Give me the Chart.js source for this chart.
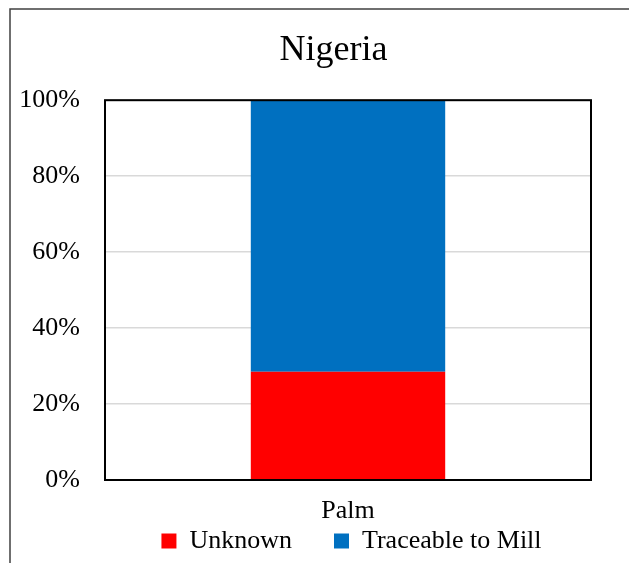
<!DOCTYPE html>
<html>
<head>
<meta charset="utf-8">
<script src="https://cdn.jsdelivr.net/npm/chart.js@4"></script>
<style>
  html, body { margin: 0; padding: 0; background: #fff; }
  #wrap { width: 629px; height: 563px; position: relative; }
</style>
</head>
<body>
<div id="wrap"><canvas id="chart"></canvas></div>
<script>
const categories = ['Palm'];
const unknownShare = [28.5];
const traceableShare = [71.5];
const yTicks = [0, 20, 40, 60, 80, 100];

const serif = "'Liberation Serif', 'Times New Roman', serif";

// the legend uses its label padding both between items and above them;
// keep the wide item gap but reserve a shorter box in the layout
const legendHeight = 38;
const legendTextY = 541;

const framePlugin = {
  id: 'frame',
  beforeLayout(chart) {
    const lg = chart.legend;
    if (lg && !lg._shortFit) {
      const fit = lg.fit.bind(lg);
      lg.fit = function () {
        fit();
        this.height = legendHeight;
      };
      lg._shortFit = true;
    }
  },
  afterLayout(chart) {
    // the original chart object is wider than the window, so its title and
    // legend are centred further right than the canvas middle
    if (chart.titleBlock) {
      chart.titleBlock.left = 10;
      chart.titleBlock.right = 657;
    }
    const lg = chart.legend;
    if (lg) {
      lg.left += 56;
      lg.right += 56;
      const pad = lg.options.labels.padding;
      const item = lg.options.labels.font.size;
      lg.top = legendTextY - pad - item / 2;
      lg.bottom = chart.height;
      lg.height = lg.bottom - lg.top;
    }
  },
  beforeDraw(chart) {
    const ctx = chart.ctx;
    ctx.save();
    ctx.strokeStyle = '#404040';
    ctx.lineWidth = 1.5;
    ctx.beginPath();
    ctx.moveTo(10, chart.height);
    ctx.lineTo(10, 9);
    ctx.lineTo(chart.width, 9);
    ctx.stroke();
    ctx.restore();
  },
  afterDatasetsDraw(chart) {
    const { left, top, width, height } = chart.chartArea;
    const ctx = chart.ctx;
    ctx.save();
    ctx.strokeStyle = '#000';
    ctx.lineWidth = 2;
    ctx.strokeRect(left, top, width, height);
    ctx.restore();
  }
};

new Chart(document.getElementById('chart'), {
  type: 'bar',
  data: {
    labels: categories,
    datasets: [
      {
        label: 'Unknown',
        data: unknownShare,
        backgroundColor: '#FF0000',
        barPercentage: 0.4,
        categoryPercentage: 1
      },
      {
        label: 'Traceable to Mill',
        data: traceableShare,
        backgroundColor: '#0070C0',
        barPercentage: 0.4,
        categoryPercentage: 1
      }
    ]
  },
  options: {
    responsive: true,
    maintainAspectRatio: false,
    animation: false,
    layout: { padding: { left: 0, right: 38, top: 0, bottom: 0 } },
    plugins: {
      title: {
        display: true,
        text: 'Nigeria',
        color: '#000',
        font: { family: serif, size: 36, weight: 'normal' },
        padding: { top: 29, bottom: 28 }
      },
      legend: {
        position: 'bottom',
        labels: {
          color: '#000',
          font: { family: serif, size: 26 },
          boxWidth: 15,
          boxHeight: 15,
          padding: 42
        }
      },
      tooltip: { enabled: false }
    },
    scales: {
      x: {
        stacked: true,
        grid: { display: false },
        border: { display: false },
        ticks: {
          color: '#000',
          padding: 8,
          font: { family: serif, size: 26 }
        },
        afterFit(scale) { scale.height = 45; }
      },
      y: {
        stacked: true,
        min: 0,
        max: 100,
        afterBuildTicks(scale) {
          scale.ticks = yTicks.map(v => ({ value: v }));
        },
        ticks: {
          color: '#000',
          padding: 25,
          font: { family: serif, size: 26 },
          callback: v => v + '%'
        },
        grid: {
          drawTicks: false,
          color: '#d9d9d9',
          lineWidth: 1.5
        },
        border: { display: false },
        afterFit(scale) { scale.width = 105; }
      }
    }
  },
  plugins: [framePlugin]
});
</script>
</body>
</html>
